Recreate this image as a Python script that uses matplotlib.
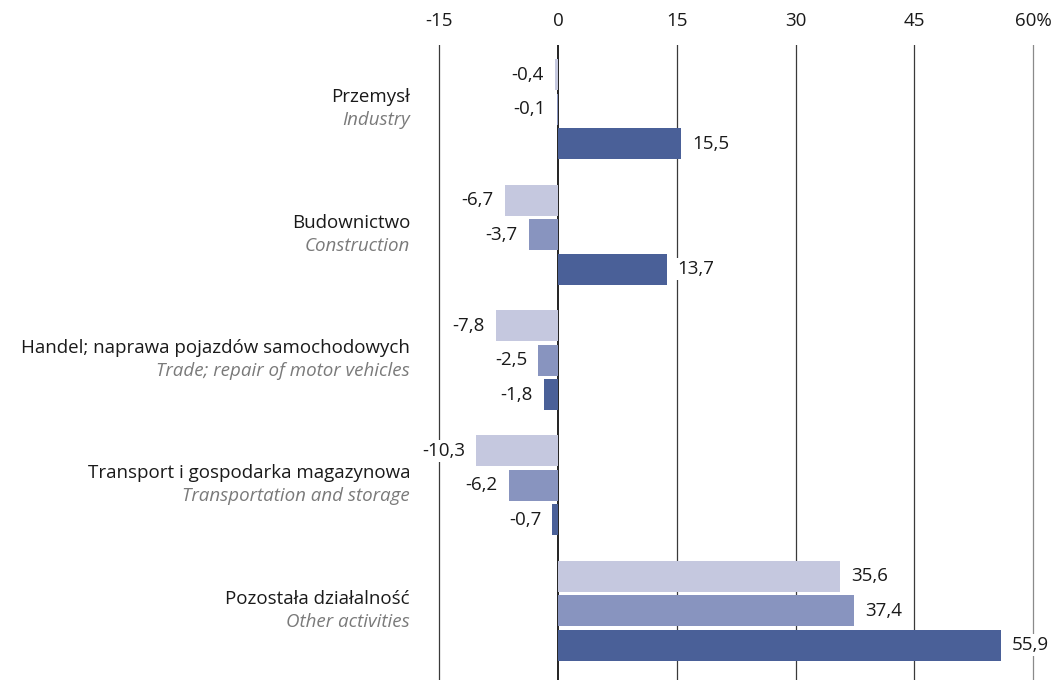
import matplotlib
matplotlib.use("Agg")
import matplotlib.pyplot as plt
import numpy as np

plt.rcParams['font.family'] = ['Open Sans', 'DejaVu Sans']

categories_pl = ["Przemysł", "Budownictwo", "Handel; naprawa pojazdów samochodowych",
                 "Transport i gospodarka magazynowa", "Pozostała działalność"]
categories_en = ["Industry", "Construction", "Trade; repair of motor vehicles",
                 "Transportation and storage", "Other activities"]
series_1 = [-0.4, -6.7, -7.8, -10.3, 35.6]
series_2 = [-0.1, -3.7, -2.5, -6.2, 37.4]
series_3 = [15.5, 13.7, -1.8, -0.7, 55.9]
tick_values = [-15, 0, 15, 30, 45, 60]
tick_labels = ["-15", "0", "15", "30", "45", "60%"]

colors = ["#c5c8df", "#8894bf", "#4a6098"]
FS = 13.5

W, H = 1056, 680
fig = plt.figure(figsize=(W / 100, H / 100), dpi=100)
px_per_unit = 7.92
x0_px = 558
xmin, xmax = -18, 62.5
left_px = x0_px + xmin * px_per_unit
right_px = x0_px + xmax * px_per_unit
top_px = 45
ax = fig.add_axes([left_px / W, 0, (right_px - left_px) / W, (H - top_px) / H])

px_per_y = 34.5
group_pitch = 125.35 / px_per_y
bar_h = 31 / px_per_y
n = len(categories_pl)
centers = np.arange(n) * group_pitch
series = [series_1, series_2, series_3]

first_c_px = 109.3
ytop = -(first_c_px - top_px) / px_per_y
ybot = ytop + (H - top_px) / px_per_y
ax.set_xlim(xmin, xmax)
ax.set_ylim(ybot, ytop)

for t in tick_values:
    col = "#222222" if t == 0 else ("#8a8a8a" if t == 60 else "#3a3a3a")
    lw = 1.4 if t == 0 else 0.9
    ax.axvline(t, color=col, lw=lw, zorder=1)

for k, (vals, c) in enumerate(zip(series, colors)):
    ys = centers + (k - 1) * 1.0
    ax.barh(ys, vals, height=bar_h, color=c, zorder=2)
    for y, v in zip(ys, vals):
        lab = f"{v:.1f}".replace(".", ",")
        off = -8 if v < 0 else 8
        ax.annotate(lab, (v, y), xytext=(off, 0), textcoords="offset points",
                    ha="right" if v < 0 else "left", va="center", fontsize=FS,
                    color="#1a1a1a",
                    bbox=dict(boxstyle="square,pad=0.12", fc="white", ec="none"),
                    zorder=3)

label_x = (410 - x0_px) / px_per_unit
for c, pl, en in zip(centers, categories_pl, categories_en):
    ax.text(label_x, c - 12 / px_per_y, pl, ha="right", va="center", fontsize=FS,
            color="#1a1a1a", clip_on=False)
    ax.text(label_x, c + 11 / px_per_y, en, ha="right", va="center", fontsize=FS,
            color="#7a7a7a", style="italic", clip_on=False)

ax.xaxis.tick_top()
ax.set_xticks(tick_values)
ax.set_xticklabels(tick_labels, fontsize=FS, color="#1a1a1a")
ax.tick_params(axis="x", length=0, pad=11)
ax.set_yticks([])
for s in ax.spines.values():
    s.set_visible(False)

fig.savefig("out.png", dpi=100)
